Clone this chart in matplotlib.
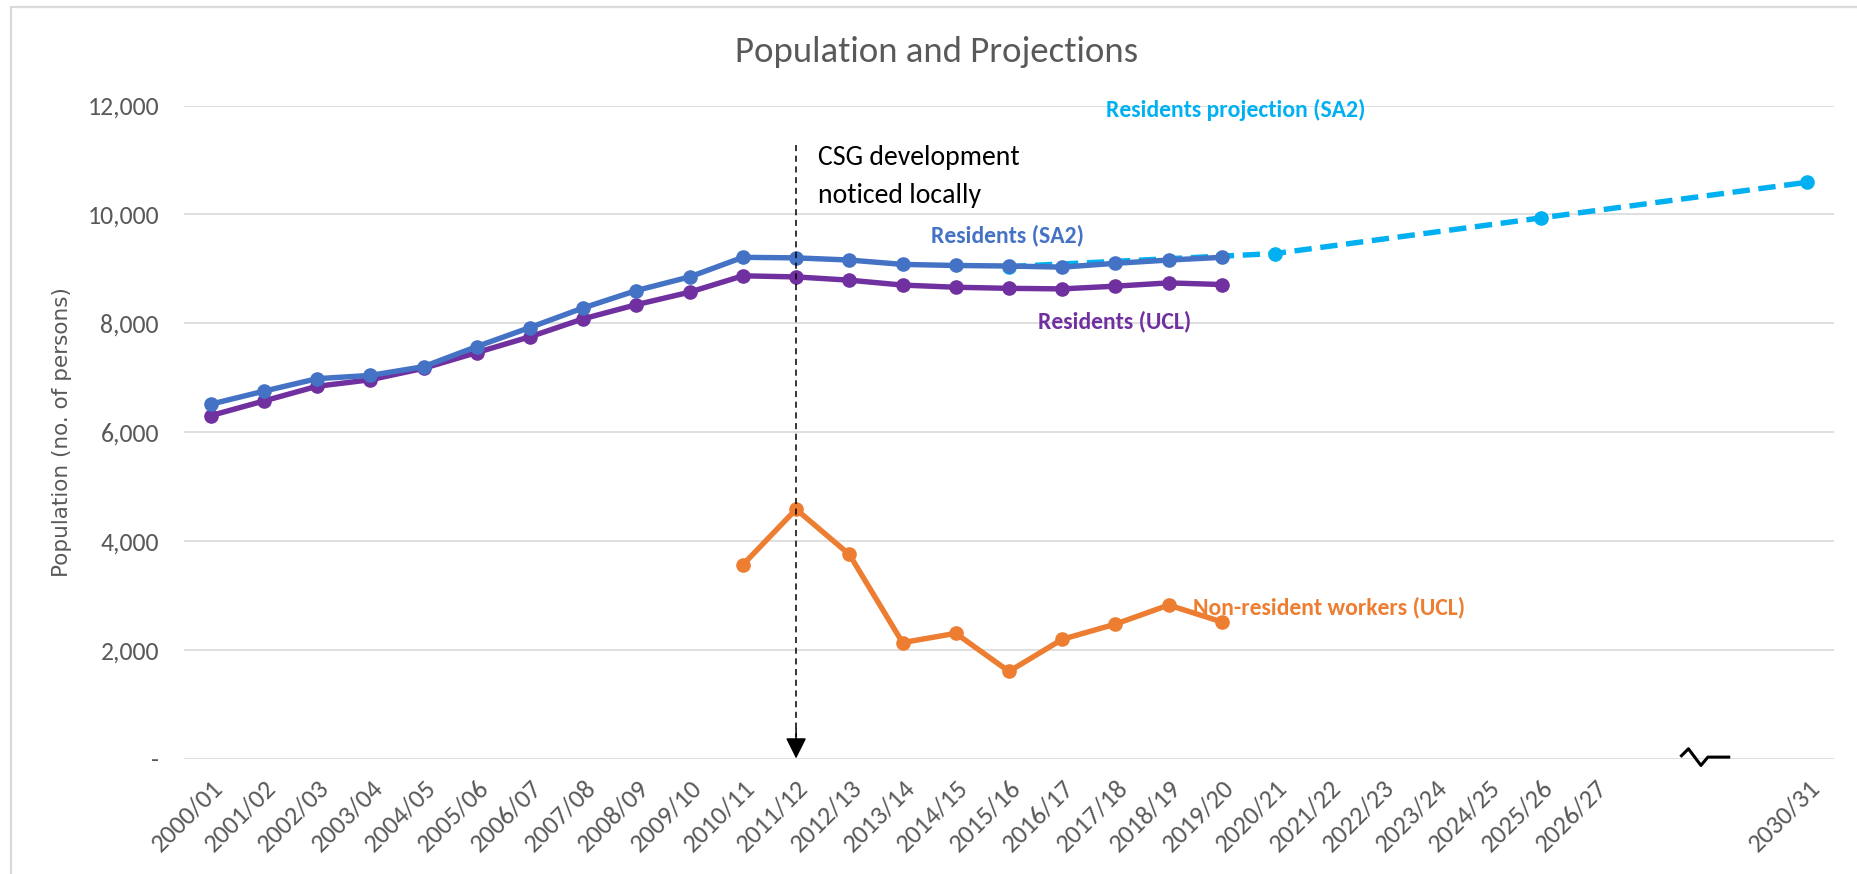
import numpy as np
import matplotlib
matplotlib.use("Agg")
import matplotlib.pyplot as plt
from matplotlib.lines import Line2D
from matplotlib.patches import Rectangle
from matplotlib.transforms import Affine2D

plt.rcParams['font.family'] = ['Carlito', 'Lato', 'DejaVu Sans']

# ---------------- data ----------------
categories = ["2000/01", "2001/02", "2002/03", "2003/04", "2004/05", "2005/06",
              "2006/07", "2007/08", "2008/09", "2009/10", "2010/11", "2011/12",
              "2012/13", "2013/14", "2014/15", "2015/16", "2016/17", "2017/18",
              "2018/19", "2019/20", "2020/21", "2021/22", "2022/23", "2023/24",
              "2024/25", "2025/26", "2026/27", "", "", "", "2030/31"]

nan = np.nan
residents_sa2 = [6510, 6750, 6980, 7040, 7200, 7570, 7920, 8280, 8600, 8850,
                 9210, 9200, 9160, 9080, 9060, 9050, 9030, 9100, 9160, 9210] + [nan] * 11
residents_ucl = [6300, 6570, 6840, 6960, 7170, 7460, 7750, 8080, 8340, 8570,
                 8870, 8850, 8790, 8700, 8660, 8640, 8630, 8680, 8740, 8710] + [nan] * 11
non_resident_workers = [nan] * 10 + [3560, 4580, 3750, 2130, 2300, 1600, 2190,
                                     2470, 2820, 2510] + [nan] * 11
projection_sa2 = [nan] * 15 + [9040, nan, nan, nan, nan, 9280, nan, nan, nan, nan,
                               9935, nan, nan, nan, nan, 10590]

csg_category = "2011/12"
break_category_index = 28
yticks = [0, 2000, 4000, 6000, 8000, 10000, 12000]
ytick_labels = ["-", "2,000", "4,000", "6,000", "8,000", "10,000", "12,000"]

# ---------------- figure ----------------
W, H = 1858, 874
fig = plt.figure(figsize=(W / 100, H / 100), dpi=100)
ax = fig.add_axes([184 / W, 1 - 758.5 / H, 1650 / W, 653 / H])

# outer chart border (clipped at right / bottom)
fig.patches.append(Rectangle((11 / W, -0.1), 1.2, 1 - 7 / H + 0.1, transform=fig.transFigure,
                             fill=False, edgecolor="#D9D9D9", lw=1.6, zorder=0))

x = np.arange(len(categories))
gray = "#595959"


def plot_valid(vals, **kw):
    v = np.array(vals, dtype=float)
    m = ~np.isnan(v)
    ax.plot(x[m], v[m], **kw)


lw = 3.9
ms = 9.5
plot_valid(projection_sa2, color="#00B0F0", lw=lw, dashes=(3.2, 1.6), marker="o",
           ms=ms, zorder=2, solid_capstyle="butt")
plot_valid(residents_ucl, color="#7030A0", lw=lw, marker="o", ms=ms, zorder=3)
plot_valid(residents_sa2, color="#4472C4", lw=lw, marker="o", ms=ms, zorder=4)
plot_valid(non_resident_workers, color="#ED7D31", lw=lw, marker="o", ms=ms, zorder=4)

# axes styling
ax.set_xlim(-0.5, len(categories) - 0.5)
ax.set_ylim(0, 12000)
ax.set_yticks(yticks)
ax.set_yticklabels(ytick_labels)
ax.set_xticks(x)
ax.set_xticklabels(categories, rotation=45, ha="right", va="top", rotation_mode="anchor")
ax.tick_params(axis="x", length=0, pad=12, labelsize=19, labelcolor=gray)
ax.tick_params(axis="y", length=0, pad=18, labelsize=18.5, labelcolor=gray)
for s in ax.spines.values():
    s.set_visible(False)
ax.grid(axis="y", color="#D9D9D9", lw=1.2)
ax.set_axisbelow(True)

ax.set_ylabel("Population (no. of persons)", family="DejaVu Sans", fontsize=15.5,
              color=gray)
ax.yaxis.set_label_coords(-0.068, 0.5)

fig.text(0.504, 0.940, "Population and Projections", ha="center", va="center",
         fontsize=26.5, color=gray)

# CSG marker
xc = categories.index(csg_category)
ax.plot([xc, xc], [11280, 400], color="black", lw=1.1, ls=(0, (4, 3)), zorder=5)
ax.annotate("", xy=(xc, 0), xytext=(xc, 550),
            arrowprops=dict(arrowstyle="-|>", color="black", lw=1.1,
                            mutation_scale=32, shrinkA=0, shrinkB=0), zorder=5)
ax.text(xc + 0.42, 10700, "CSG development\nnoticed locally", fontsize=20,
        color="black", ha="left", va="center", linespacing=1.65)

# series labels
ax.text(16.83, 11917, "Residents projection (SA2)", color="#00B0F0", fontsize=17,
        fontweight="bold", ha="left", va="center")
ax.text(13.54, 9620, "Residents (SA2)", color="#4472C4", fontsize=17,
        fontweight="bold", ha="left", va="center")
ax.text(15.55, 8040, "Residents (UCL)", color="#7030A0", fontsize=17,
        fontweight="bold", ha="left", va="center")
ax.text(18.45, 2784, "Non-resident workers (UCL)", color="#ED7D31", fontsize=17,
        fontweight="bold", ha="left", va="center")

# axis break symbol (offsets in points around the break position on the x axis)
origin = ax.transData.transform((break_category_index, 0))
zig = Line2D([-14, -9, 0, 5, 20], [2, 7, -5, 1, 1], color="black", lw=2.2,
             clip_on=False, zorder=6)
zig.set_transform(Affine2D().scale(100 / 72).translate(*origin))
fig.lines.append(zig)

fig.savefig("out.png", dpi=100)
